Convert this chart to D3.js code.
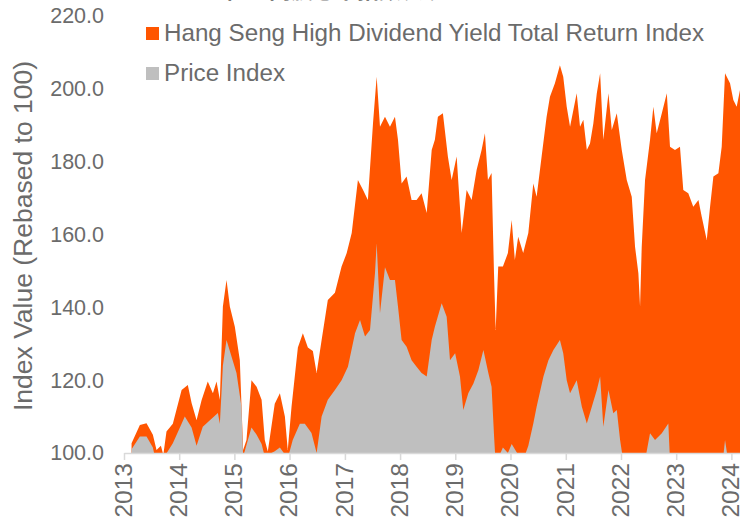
<!DOCTYPE html>
<html><head><meta charset="utf-8">
<script src="https://cdn.jsdelivr.net/npm/d3@7"></script>
<style>
html,body{margin:0;padding:0;background:#fff;overflow:hidden}
svg{display:block;font-family:"Liberation Sans",Arial,sans-serif}
</style>
</head><body>
<svg id="chart" width="740" height="529"></svg>
<script>
const chartTitle = "恒生高股息率指数表现";
const seriesNames = ["Hang Seng High Dividend Yield Total Return Index", "Price Index"];
const seriesColors = ["#ff5500", "#bfbfbf"];
const yTickValues = [100, 120, 140, 160, 180, 200, 220];
const xTickYears = [2013, 2014, 2015, 2016, 2017, 2018, 2019, 2020, 2021, 2022, 2023, 2024];
const yAxisTitle = "Index Value (Rebased to 100)";

const trDates = [
"2013-02-20","2013-04-16","2013-05-30","2013-07-11","2013-08-04","2013-09-02","2013-09-18","2013-10-09","2013-11-20",
"2014-01-17","2014-02-27","2014-03-24","2014-04-26","2014-05-29","2014-07-09","2014-08-12","2014-09-05","2014-09-27","2014-10-17","2014-11-10","2014-12-02",
"2015-01-04","2015-02-06","2015-02-28","2015-03-22","2015-04-24","2015-05-28","2015-06-30","2015-07-21","2015-08-10","2015-09-25","2015-10-29","2015-12-01","2015-12-20",
"2016-01-14","2016-02-25","2016-03-29","2016-05-01","2016-06-03","2016-06-28","2016-07-31","2016-09-10","2016-10-27","2016-12-10",
"2017-01-13","2017-02-15","2017-03-28","2017-05-01","2017-06-02","2017-07-06","2017-07-30","2017-08-21","2017-09-23","2017-10-26","2017-11-28","2017-12-18",
"2018-01-11","2018-02-13","2018-03-18","2018-04-20","2018-05-23","2018-06-26","2018-07-29","2018-08-19","2018-09-08","2018-10-11","2018-11-13","2018-12-08",
"2019-01-10","2019-02-12","2019-03-17","2019-04-19","2019-05-22","2019-06-24","2019-07-16","2019-08-05","2019-08-29","2019-09-14","2019-09-25","2019-10-12","2019-11-12","2019-12-15",
"2020-01-09","2020-01-30","2020-02-21","2020-03-25","2020-04-28","2020-05-31","2020-06-22","2020-07-25","2020-08-27","2020-09-18","2020-10-21","2020-11-23","2020-12-15",
"2021-01-07","2021-01-29","2021-03-14","2021-04-05","2021-04-27","2021-05-20","2021-06-10","2021-07-02","2021-07-25","2021-08-16","2021-09-06","2021-10-10","2021-11-01","2021-12-04",
"2022-01-06","2022-02-08","2022-03-13","2022-04-04","2022-04-26","2022-05-07","2022-05-18","2022-06-09","2022-07-12","2022-08-03","2022-08-25","2022-09-28","2022-10-31","2022-11-21","2022-12-24",
"2023-01-26","2023-02-17","2023-03-22","2023-04-24","2023-05-28","2023-06-19","2023-07-22","2023-08-13","2023-09-04","2023-10-07","2023-10-29","2023-11-20","2023-12-23",
"2024-01-14","2024-02-05","2024-02-27"
];
const trValues = [
102.7,107.7,108.2,105,100.8,102,99.5,105.9,108,
117.3,118.7,113.7,109,114.5,119.6,116.4,119.6,114.6,140.2,147.5,140.2,
134.7,125.5,100.8,103.6,120,118.2,114.6,103.6,100.4,113.5,116.4,110,100.8,
112.7,129,132.9,129,128,122,131,142,144,151.2,
154.9,160.4,175,172.2,169.5,190.6,203.3,189.6,192.3,189.6,192.3,186,
174,175.9,169.5,169.5,171.3,165.9,183.2,186,192.3,193.3,181.4,175,
181.4,160.4,172.2,169.5,177.7,183.2,187.8,175,176.9,149.4,133.8,151.2,151.2,154.9,
164,153,159.4,154.9,160.4,174,170.4,181.4,192.3,197.8,201.5,206.5,203.3,
195.1,189.6,198.8,189.6,191.5,183.2,185,190.5,198.8,204.3,186,198.8,188.7,193.3,
183.2,175,170.4,156.6,149.3,140.2,156.6,175,186,195.1,187.8,193.3,198.8,184.1,183.2,
184.1,172.2,171.3,167.6,169.5,164.9,158.5,167.6,175.9,176.8,184.1,204.3,201.5,
196.9,195.1,199.7
];

const piDates = [
"2013-02-20","2013-04-16","2013-05-30","2013-07-11","2013-07-24","2013-09-18","2013-11-20",
"2014-01-17","2014-02-07","2014-03-24","2014-04-26","2014-06-06","2014-07-23","2014-09-14","2014-09-27","2014-10-17","2014-11-10","2014-12-02",
"2015-01-15","2015-02-17","2015-02-28","2015-04-24","2015-05-28","2015-06-30","2015-07-21","2015-09-25","2015-10-29","2015-12-20",
"2016-01-22","2016-03-09","2016-04-11","2016-05-25","2016-06-28","2016-07-31","2016-09-10","2016-10-27","2016-12-10",
"2017-01-21","2017-03-09","2017-04-11","2017-05-14","2017-06-16","2017-07-19","2017-07-30","2017-08-21","2017-09-23","2017-10-26","2017-11-28","2017-12-18",
"2018-01-11","2018-02-13","2018-03-18","2018-04-20","2018-05-23","2018-06-26","2018-07-29","2018-08-19","2018-10-03","2018-11-05","2018-11-27","2018-12-31",
"2019-02-01","2019-02-23","2019-03-28","2019-05-01","2019-06-03","2019-07-06","2019-08-08","2019-08-29","2019-09-14","2019-09-25","2019-11-12","2019-12-15",
"2020-01-09","2020-02-21","2020-03-25","2020-04-28","2020-05-31","2020-06-22","2020-08-06","2020-09-08","2020-10-11","2020-11-23","2020-12-15",
"2021-01-07","2021-01-29","2021-03-14","2021-04-17","2021-05-20","2021-06-22","2021-07-25","2021-08-16","2021-09-06","2021-10-10","2021-11-11","2021-12-04","2021-12-26",
"2022-01-15","2022-03-15","2022-05-07","2022-06-09","2022-07-12","2022-08-14","2022-09-28","2022-11-10","2022-11-21",
"2023-03-22","2023-07-22","2023-11-06","2023-11-20","2023-12-10","2024-02-27"
];
const piValues = [
101,104.5,104.5,101.5,99,98.5,102.7,
108,110,107,102,107.2,109,111,108,124,131,128,
122,112.7,99,107,105,102.5,99,100.5,101.5,98.5,
103.6,108,108,105.5,100,110,114.6,117.3,120,
123.7,132.9,136.5,132,133.8,149.4,157.6,138.4,151,147.5,147.5,140.2,
131,129.2,125.5,123.7,122,121,131,134.7,141.1,137.4,125.5,127.4,
121,111.8,116.4,119.1,122.8,128.3,121.9,118.2,105,97,101.5,100,
102.5,99.5,98,102,108.1,112.7,121,125.5,128.3,131,127.4,
120,116.4,120,112.7,108.1,112.7,117.3,121,107.2,117.3,110.9,111.8,103.6,
98,92,85,98,105.4,103.6,105.4,108.1,98,
92,88,98,103.6,98,98
];

const parse = d3.timeParse("%Y-%m-%d");
const trData = trDates.map((d, i) => ({date: parse(d), v: trValues[i]}));
const piData = piDates.map((d, i) => ({date: parse(d), v: piValues[i]}));

const svg = d3.select("#chart");
const textColor = "#6b6b6b";

const x = d3.scaleTime()
  .domain([new Date(2013, 0, 1), new Date(2024, 1, 27)])
  .range([124, 740]);
const y = d3.scaleLinear().domain([100, 220]).range([453, 16]);

svg.append("defs").append("clipPath").attr("id", "plotClip")
  .append("rect").attr("x", 124).attr("y", 0).attr("width", 616).attr("height", 453);

const area = d3.area()
  .x(d => x(d.date))
  .y0(y(100))
  .y1(d => y(d.v));

const plot = svg.append("g").attr("clip-path", "url(#plotClip)");
plot.append("path").datum(trData).attr("d", area).attr("fill", seriesColors[0]);
plot.append("path").datum(piData).attr("d", area).attr("fill", seriesColors[1]);

// x axis
const xAxis = d3.axisBottom(x)
  .tickValues(xTickYears.map(yr => new Date(yr, 0, 1)))
  .tickFormat(d3.timeFormat("%Y"))
  .tickSize(7).tickSizeOuter(0);
const gx = svg.append("g").attr("transform", `translate(0,${y(100)})`).call(xAxis);
gx.select(".domain").attr("stroke", "#d9d9d9").attr("stroke-width", 1.5);
gx.selectAll(".tick line").attr("stroke", "#d9d9d9").attr("stroke-width", 1.5);
gx.selectAll(".tick text")
  .attr("fill", textColor).attr("font-size", 24.5)
  .attr("font-family", '"Liberation Sans", Arial, sans-serif')
  .attr("text-anchor", "end")
  .attr("transform", "translate(0,10) rotate(-90)")
  .attr("x", 0).attr("y", 0).attr("dy", "0.3em");

// y axis
const yAxis = d3.axisLeft(y).tickValues(yTickValues).tickFormat(d3.format(".1f")).tickSize(0);
const gy = svg.append("g").attr("transform", "translate(104,0)").call(yAxis);
gy.select(".domain").remove();
gy.selectAll(".tick text")
  .attr("fill", textColor).attr("font-size", 21.5)
  .attr("font-family", '"Liberation Sans", Arial, sans-serif')
  .attr("x", 0);

svg.append("text")
  .attr("transform", "translate(32,236) rotate(-90)")
  .attr("text-anchor", "middle")
  .attr("fill", textColor).attr("font-size", 26.5)
  .text(yAxisTitle);

// legend
const legend = svg.append("g");
seriesNames.forEach((name, i) => {
  const gy0 = 27 + i * 40;
  legend.append("rect").attr("x", 146).attr("y", gy0).attr("width", 13).attr("height", 13).attr("fill", seriesColors[i]);
  legend.append("text").attr("x", 164).attr("y", gy0 + 14).attr("fill", textColor)
    .attr("font-size", 24.2).text(name);
});

// title (mostly above the top edge, as in the reference)
svg.append("text")
  .attr("x", 335).attr("y", -2)
  .attr("text-anchor", "middle")
  .attr("fill", "#7a7a7a")
  .attr("font-size", 22).attr("font-weight", "bold")
  .attr("font-family", '"Noto Sans CJK SC", sans-serif')
  .text(chartTitle);
</script>
</body></html>
